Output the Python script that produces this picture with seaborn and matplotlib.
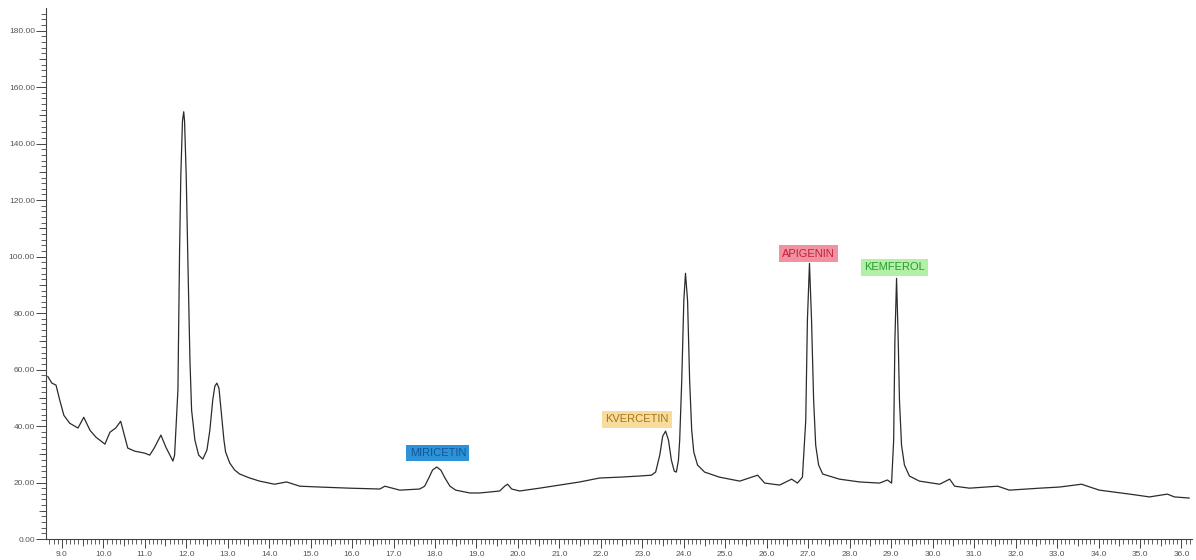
import matplotlib
matplotlib.use("Agg")
import matplotlib.pyplot as plt
import numpy as np
import pandas as pd
import seaborn as sns

# chromatogram trace: retention time (min) / signal
rt_min = [8.66, 8.76, 8.86, 8.95, 9.05, 9.19, 9.39, 9.53, 9.68, 9.82,
          10.04, 10.16, 10.30, 10.42, 10.59, 10.76, 11.00, 11.12, 11.24, 11.39,
          11.51, 11.68, 11.72, 11.80, 11.84, 11.87, 11.91, 11.94, 11.96, 12.00,
          12.04, 12.09, 12.13, 12.21, 12.30, 12.40, 12.50, 12.57, 12.64, 12.69,
          12.74, 12.79, 12.83, 12.91, 12.95, 13.05, 13.17, 13.29, 13.53, 13.77,
          14.13, 14.42, 14.74, 15.22, 15.94, 16.67, 16.79, 17.15, 17.63, 17.75,
          17.85, 17.94, 18.04, 18.14, 18.24, 18.36, 18.50, 18.84, 19.08, 19.56,
          19.68, 19.75, 19.85, 20.04, 20.52, 21.01, 21.49, 21.97, 22.45, 22.93,
          23.22, 23.32, 23.42, 23.49, 23.56, 23.63, 23.70, 23.77, 23.82, 23.87,
          23.90, 23.95, 24.00, 24.04, 24.09, 24.14, 24.19, 24.24, 24.33, 24.50,
          24.86, 25.35, 25.78, 25.95, 26.31, 26.60, 26.74, 26.86, 26.94, 26.98,
          27.03, 27.08, 27.13, 27.18, 27.25, 27.35, 27.75, 28.24, 28.72, 28.91,
          29.01, 29.06, 29.09, 29.13, 29.17, 29.20, 29.25, 29.32, 29.44, 29.68,
          30.17, 30.41, 30.53, 30.89, 31.57, 31.85, 32.58, 33.06, 33.59, 34.02,
          34.75, 35.23, 35.66, 35.83, 36.19]
signal = [57.6, 55.2, 54.5, 49.2, 43.8, 41.0, 39.3, 43.1, 38.5, 36.1,
          33.6, 37.8, 39.3, 41.7, 32.2, 31.1, 30.4, 29.7, 32.5, 36.8,
          32.5, 27.6, 29.7, 52.7, 102.0, 128.7, 148.0, 151.3, 148.0, 128.7,
          98.7, 63.3, 45.6, 35.0, 29.7, 28.3, 31.5, 38.5, 49.2, 54.1,
          55.2, 53.4, 47.4, 35.0, 30.8, 26.9, 24.4, 23.0, 21.6, 20.5,
          19.4, 20.2, 18.7, 18.4, 18.0, 17.7, 18.7, 17.3, 17.7, 18.7,
          21.6, 24.4, 25.5, 24.4, 21.6, 18.7, 17.3, 16.3, 16.3, 17.0,
          18.7, 19.4, 17.7, 17.0, 18.0, 19.1, 20.2, 21.6, 21.9, 22.3,
          22.6, 23.7, 29.7, 36.4, 38.2, 35.0, 27.9, 24.0, 23.7, 27.9,
          35.0, 56.2, 84.5, 94.1, 84.5, 56.2, 38.5, 30.8, 26.2, 23.7,
          21.9, 20.5, 22.6, 19.8, 19.1, 21.2, 19.8, 21.9, 42.0, 77.4,
          97.6, 77.4, 49.2, 33.2, 26.2, 23.0, 21.2, 20.2, 19.8, 20.9,
          19.8, 35.0, 70.4, 92.3, 70.4, 49.2, 33.2, 26.2, 22.3, 20.5,
          19.4, 21.2, 18.7, 18.0, 18.7, 17.3, 18.0, 18.4, 19.4, 17.3,
          15.9, 14.9, 15.9, 14.9, 14.5]

# peak annotations
peak_names = ["MIRICETIN", "KVERCETIN", "APIGENIN", "KEMFEROL"]
label_x = [18.07, 22.86, 27.01, 29.08]
label_y = [30.4, 42.4, 101.1, 96.2]
label_face = ["#2b93d6", "#f7dc9c", "#f2919f", "#b2f0a8"]
label_color = ["#16549e", "#a8741c", "#c2203c", "#2a9c2a"]

df = pd.DataFrame({"rt": rt_min, "signal": signal})

sns.set_theme(style="white")
plt.rcParams["font.family"] = ["Liberation Sans", "DejaVu Sans"]

fig = plt.figure(figsize=(11.96, 5.6), dpi=100)
ax = fig.add_axes([0.0385, 0.0375, 0.958, 0.948])

sns.lineplot(data=df, x="rt", y="signal", ax=ax, color="#2b2b2b",
             linewidth=0.9, sort=False, estimator=None)

ax.set_xlim(8.62, 36.25)
ax.set_ylim(0, 188)
ax.set_xlabel("")
ax.set_ylabel("")

for s in ["top", "right"]:
    ax.spines[s].set_visible(False)
for s in ["left", "bottom"]:
    ax.spines[s].set_color("#444444")
    ax.spines[s].set_linewidth(0.8)

ax.set_xticks(np.arange(9, 37, 1))
ax.set_xticklabels([f"{v:.1f}" for v in np.arange(9, 37, 1)])
ax.set_xticks(np.arange(8.7, 36.25, 0.1), minor=True)
ax.set_yticks(np.arange(0, 181, 20))
ax.set_yticklabels([f"{v:.2f}" for v in np.arange(0, 181, 20)])
ax.set_yticks(np.arange(0, 188, 2), minor=True)

ax.tick_params(axis="x", which="major", direction="out", length=6.5, width=0.7,
               color="#444444", labelsize=6, labelcolor="#555555", pad=2,
               bottom=True)
ax.tick_params(axis="x", which="minor", direction="out", length=3.5, width=0.6,
               color="#444444", bottom=True)
ax.tick_params(axis="y", which="major", direction="out", length=7, width=0.7,
               color="#444444", labelsize=6, labelcolor="#555555", pad=1,
               left=True)
ax.tick_params(axis="y", which="minor", direction="out", length=3.5, width=0.6,
               color="#444444", left=True)

# medium ticks at the half marks
secx = ax.secondary_xaxis("bottom")
secx.set_xticks(np.arange(9.5, 36.2, 1))
secx.tick_params(length=5, width=0.6, color="#444444", labelbottom=False)
secx.spines["bottom"].set_visible(False)
secy = ax.secondary_yaxis("left")
secy.set_yticks(np.arange(10, 188, 20))
secy.tick_params(length=5, width=0.6, color="#444444", labelleft=False)
secy.spines["left"].set_visible(False)

for name, x, y, fc, tc in zip(peak_names, label_x, label_y, label_face, label_color):
    ax.text(x, y, name, ha="center", va="center", fontsize=8, color=tc,
            bbox=dict(boxstyle="square,pad=0.3", facecolor=fc, edgecolor="none"))

fig.savefig("out.png", dpi=100)
